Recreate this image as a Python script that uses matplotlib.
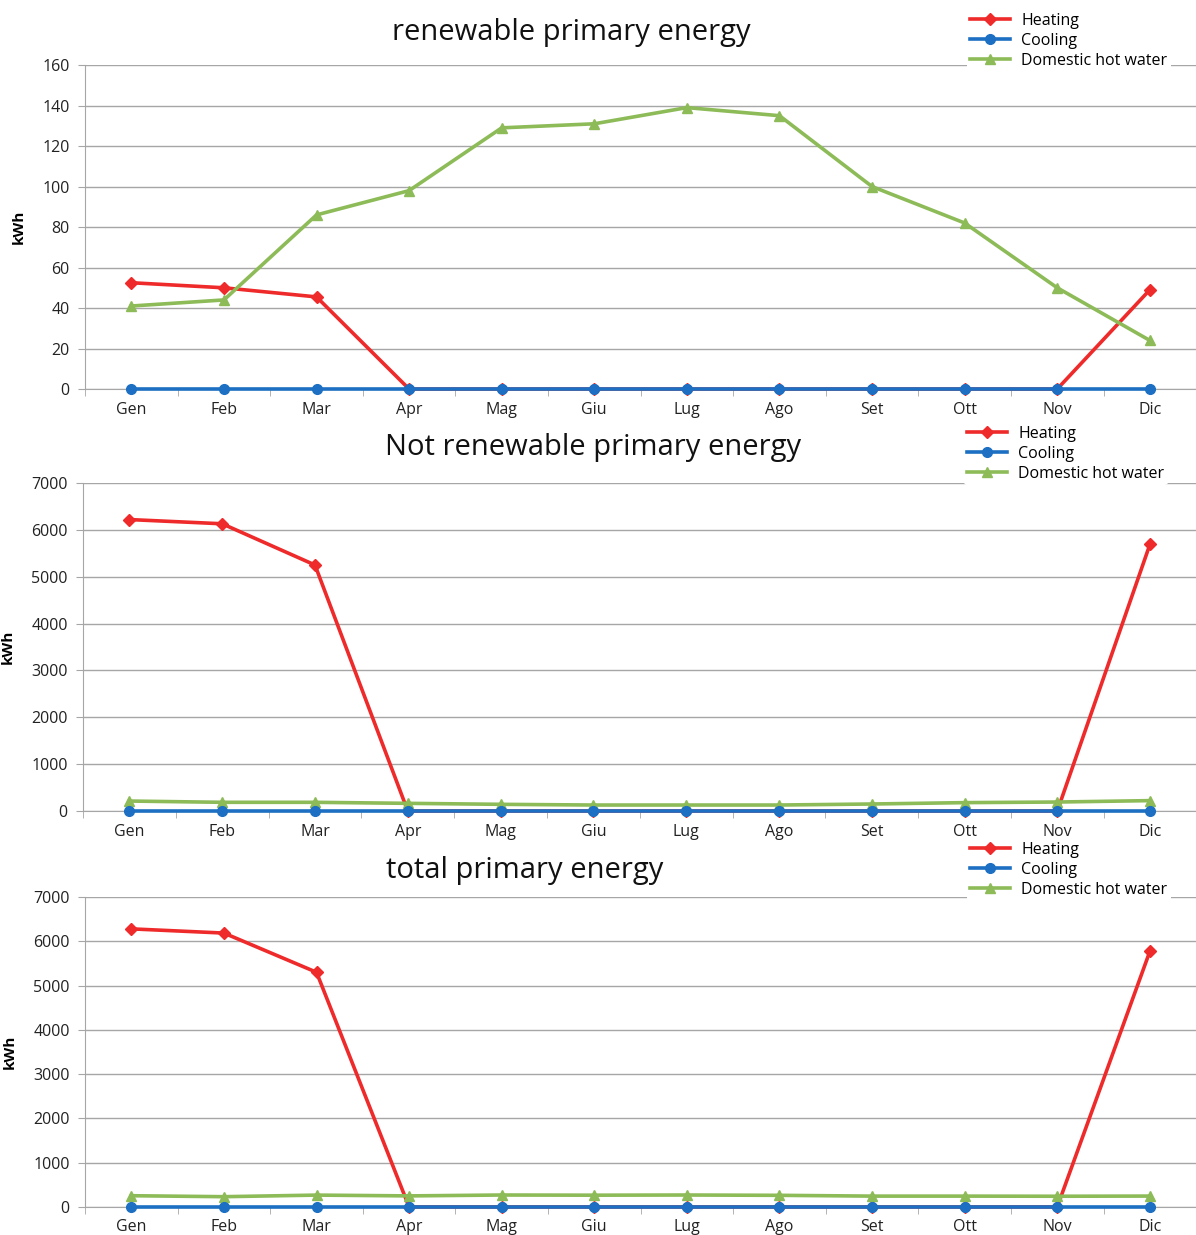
import numpy as np
import matplotlib.pyplot as plt

months = ['Gen', 'Feb', 'Mar', 'Apr', 'Mag', 'Giu', 'Lug', 'Ago', 'Set', 'Ott', 'Nov', 'Dic']

# renewable primary energy
ren_heating = [52.5, 50, 45.5, 0, 0, 0, 0, 0, 0, 0, 0, 49]
ren_cooling = [0] * 12
ren_dhw = [41, 44, 86, 98, 129, 131, 139, 135, 100, 82, 50, 24]

# not renewable primary energy
nren_heating = [6220, 6130, 5250, 0, 0, 0, 0, 0, 0, 0, 0, 5700]
nren_cooling = [0] * 12
nren_dhw = [213, 186, 186, 164, 143, 128, 128, 128, 150, 179, 192, 222]

# total primary energy
tot_heating = [6280, 6185, 5300, 0, 0, 0, 0, 0, 0, 0, 0, 5770]
tot_cooling = [0] * 12
tot_dhw = [254, 232, 268, 250, 270, 266, 270, 263, 245, 245, 242, 246]

red = '#EE2A2A'
blue = '#1C6FC2'
green = '#8DBB58'
grid_c = '#A6A6A6'

plt.rcParams['font.family'] = ['Open Sans', 'DejaVu Sans']

fig = plt.figure(figsize=(11.96, 12.35), dpi=100)

panels = [
    ("renewable primary energy", ren_heating, ren_cooling, ren_dhw,
     [0.0711, 0.685, 0.929, 0.2623], 160, 20, (0.478, 0.974), (0.8085, 0.992)),
    ("Not renewable primary energy", nren_heating, nren_cooling, nren_dhw,
     [0.0694, 0.3433, 0.931, 0.2656], 7000, 1000, (0.496, 0.638), (0.806, 0.658)),
    ("total primary energy", tot_heating, tot_cooling, tot_dhw,
     [0.0711, 0.0227, 0.929, 0.251], 7000, 1000, (0.439, 0.295), (0.8085, 0.321)),
]

x = np.arange(len(months))
for title, heat, cool, dhw, rect, ymax, ystep, tpos, lpos in panels:
    ax = fig.add_axes(rect)
    l1, = ax.plot(x, heat, color=red, lw=2.6, marker='D', ms=6, label='Heating', zorder=2)
    l3, = ax.plot(x, dhw, color=green, lw=2.6, marker='^', ms=7.5, label='Domestic hot water', zorder=3)
    l2, = ax.plot(x, cool, color=blue, lw=2.6, marker='o', ms=7, label='Cooling', zorder=4)
    ax.set_xlim(-0.5, 11.5)
    ax.set_ylim(0, ymax)
    ax.set_yticks(np.arange(0, ymax + 1, ystep))
    ax.set_xticks(x)
    ax.set_xticklabels(months)
    ax.set_xticks(np.arange(-0.5, 12, 1), minor=True)
    ax.tick_params(axis='x', which='major', length=0, pad=9, labelsize=11.5, colors='#222222')
    ax.tick_params(axis='x', which='minor', length=5, color=grid_c)
    ax.tick_params(axis='y', length=5, color=grid_c, labelsize=11.5, colors='#222222', pad=6)
    ax.yaxis.grid(True, color=grid_c, lw=1)
    ax.set_axisbelow(True)
    for s in ['top', 'right']:
        ax.spines[s].set_visible(False)
    ax.spines['left'].set_color(grid_c)
    ax.spines['bottom'].set_color(grid_c)
    ax.set_ylabel('kWh', fontsize=11, fontweight='bold', labelpad=12)
    for ln in ax.get_lines():
        ln.set_clip_on(False)
    fig.text(tpos[0], tpos[1], title, ha='center', va='center', fontsize=21, color='#111111')
    leg = fig.legend(handles=[l1, l2, l3], loc='upper left', bbox_to_anchor=lpos,
                     frameon=True, fontsize=11.5, handlelength=2.5, handletextpad=0.7,
                     labelspacing=0.25, borderpad=0.2, borderaxespad=0)
    leg.get_frame().set_facecolor('white')
    leg.get_frame().set_edgecolor('none')
    leg.get_frame().set_alpha(1)

fig.savefig('out.png', dpi=100)
